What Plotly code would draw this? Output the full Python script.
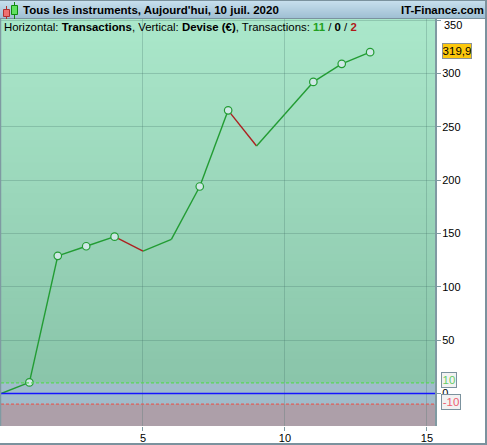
import plotly.graph_objects as go

W, H = 487, 445
L, R, T, B = 1, 436, 19, 426

# Data
transactions = [0, 1, 2, 3, 4, 5, 6, 7, 8, 9, 10, 11, 12, 13]
currency = [0, 10.4, 129, 138, 147, 133.5, 144.5, 194, 265.4, 232, 262, 292, 309, 319.9]
marker_x = [1, 2, 3, 4, 7, 8, 11, 12, 13]
marker_y = [10.4, 129, 138, 147, 194, 265.4, 292, 309, 319.9]
y_ticks = [0, 50, 100, 150, 200, 250, 300, 350]
y_ticklabels = ["0", "50", "100", "150", "200", "250", "300", ""]
top_label = "350"
x_ticks = [5, 10, 15]
x_ticklabels = ["5", "10", "15"]
last_label = "319,9"
upper_level, lower_level = 10, -10
title = "Tous les instruments, Aujourd'hui, 10 juil. 2020"
site = "IT-Finance.com"

GREEN, RED = "#229c33", "#ad2020"
FRAME = "#7b929e"
Y_MIN, Y_MAX = -30.46, 351
X_MIN, X_MAX = 0, 15.32


def px(x):
    return (x - L) / (R - L)


def py(y):
    return (B - y) / (B - T)


def mix(a, b, t):
    return "rgb(%d,%d,%d)" % tuple(round(a[i] + (b[i] - a[i]) * t) for i in range(3))


def rect(x0, y0, x1, y1, fill, line=None, lw=0, layer="above"):
    return dict(type="rect", xref="paper", yref="paper", x0=px(x0), x1=px(x1), y0=py(y0), y1=py(y1),
                fillcolor=fill, line=dict(color=line or fill, width=lw), layer=layer)


def hline(x0, y0, x1, y1, color, lw=1, layer="above"):
    return dict(type="line", xref="paper", yref="paper", x0=px(x0), x1=px(x1), y0=py(y0), y1=py(y1),
                line=dict(color=color, width=lw), layer=layer)


shapes = []
# Green gradient, then the neutral and loss bands
top_c, bot_c = (170, 231, 202), (138, 197, 170)
n = 48
for i in range(n):
    t = i / (n - 1)
    y0 = T + (382 - T) * i / n
    shapes.append(rect(L, y0, R, B, mix(top_c, bot_c, t), layer="below"))
shapes.append(dict(type="rect", xref="paper", yref="y", x0=px(L), x1=px(R), y0=lower_level, y1=upper_level,
                   fillcolor="#a0bccb", line=dict(width=0), layer="below"))
shapes.append(dict(type="rect", xref="paper", yref="y", x0=px(L), x1=px(R), y0=Y_MIN, y1=lower_level,
                   fillcolor="#ad9fa9", line=dict(width=0), layer="below"))
# Reference levels
for level, color, dash, lw in [(upper_level, "#58d858", "3px,2px", 1.3), (lower_level, "#e05c5c", "3px,2px", 1.2), (0, "#1414ff", "solid", 1.4)]:
    shapes.append(dict(type="line", xref="paper", yref="y", x0=px(L), x1=px(R), y0=level, y1=level,
                       line=dict(color=color, width=lw, dash=dash), layer="above"))
# Frame of the plot
shapes.append(hline(436, T, 436, B, "#7f9aa2", 2))
shapes.append(hline(0.5, T, 0.5, B, "#7f9aa2", 1.5))
# Title bar gradient
bar_top, bar_bot = (200, 224, 238), (158, 190, 210)
for i in range(19):
    shapes.append(rect(0, i, W, 19, mix(bar_top, bar_bot, i / 18)))
shapes.append(hline(0, 18.5, W, 18.5, FRAME, 1))
# Window border
shapes.append(hline(0, 0.5, W, 0.5, FRAME, 1))
shapes.append(hline(486, 0, 486, H, FRAME, 2))
shapes.append(hline(0, 444, W, 444, FRAME, 2))
# Candle icon
shapes.append(hline(6.5, 6, 6.5, 19, "#b03030", 1))
shapes.append(rect(3.5, 9.5, 9.5, 16.5, "#ee7070", "#b03030", 1))
shapes.append(hline(14.5, 2, 14.5, 19, "#108a10", 1))
shapes.append(rect(11.5, 5.5, 17.5, 14.5, "#60e060", "#108a10", 1))

fig = go.Figure()
for i in range(len(transactions) - 1):
    color = RED if currency[i + 1] < currency[i] else GREEN
    fig.add_trace(go.Scatter(x=transactions[i:i + 2], y=currency[i:i + 2], mode="lines",
                             line=dict(color=color, width=1.4), hoverinfo="skip", showlegend=False))
fig.add_trace(go.Scatter(x=marker_x, y=marker_y, mode="markers",
                         marker=dict(size=7.5, color="#cfe8e6", line=dict(color=GREEN, width=1.2)),
                         hoverinfo="skip", showlegend=False))

FONT = "Liberation Sans"
INK = "#000000"
annotations = [
    dict(xref="paper", yref="paper", x=px(21), y=py(9.5), text=f"<b>{title}</b>", showarrow=False,
         xanchor="left", yanchor="middle", font=dict(family=FONT, size=11.5, color=INK)),
    dict(xref="paper", yref="paper", x=px(486), y=py(9.5), text=f"<b>{site}</b>", showarrow=False,
         xanchor="right", yanchor="middle", font=dict(family=FONT, size=11.4, color=INK)),
    dict(xref="paper", yref="paper", x=px(2), y=py(27), showarrow=False, xanchor="left", yanchor="middle",
         text="Horizontal: <b>Transactions</b>, Vertical: <b>Devise (€)</b>, Transactions: "
              "<b style='color:#22a022'>11</b> / <b>0</b> / <b style='color:#b01818'>2</b>",
         font=dict(family=FONT, size=11.4, color=INK)),
    dict(xref="paper", yref="paper", x=px(442), y=py(25), text=top_label, showarrow=False, xanchor="left",
         yanchor="middle", font=dict(family=FONT, size=11, color=INK)),
    dict(xref="paper", yref="y", x=px(442), y=currency[-1], yshift=1.5, text=last_label, showarrow=False,
         xanchor="left", yanchor="middle", bgcolor="#fcc70c", bordercolor="#8a9298", borderwidth=1, borderpad=0,
         width=28, height=14, font=dict(family=FONT, size=11.5, color=INK)),
    dict(xref="paper", yref="y", x=px(441), y=upper_level, yshift=2.5, text=str(upper_level), showarrow=False,
         xanchor="left", yanchor="middle", bgcolor="#f2f2f2", bordercolor=FRAME, borderwidth=1, borderpad=0,
         width=14, height=14, font=dict(family=FONT, size=11.5, color="#66cc66")),
    dict(xref="paper", yref="y", x=px(441), y=lower_level, yshift=2, text=str(lower_level), showarrow=False,
         xanchor="left", yanchor="middle", bgcolor="#f2f2f2", bordercolor=FRAME, borderwidth=1, borderpad=0,
         width=18, height=14, font=dict(family=FONT, size=11.5, color="#ee6070")),
]

fig.update_layout(
    width=W, height=H, margin=dict(l=L, r=W - R, t=T, b=H - B, autoexpand=False),
    paper_bgcolor="white", plot_bgcolor="white", showlegend=False,
    shapes=shapes, annotations=annotations,
    font=dict(family=FONT, size=11, color=INK),
    xaxis=dict(range=[X_MIN, X_MAX], tickmode="array", tickvals=x_ticks, ticktext=x_ticklabels,
               showgrid=True, gridcolor="rgba(60,110,100,0.26)", gridwidth=1, zeroline=False,
               ticks="outside", ticklen=4, tickcolor="#7f9aa2", showline=False, ticklabelstandoff=-2),
    yaxis=dict(range=[Y_MIN, Y_MAX], side="right", tickmode="array", tickvals=y_ticks, ticktext=y_ticklabels,
               showgrid=True, gridcolor="rgba(60,110,100,0.26)", gridwidth=1, zeroline=False,
               ticks="outside", ticklen=4, tickcolor="#7f9aa2", showline=False, ticklabelstandoff=-1),
)
fig.write_html("out.html", config=dict(displayModeBar=False),
               post_script="document.body.style.margin='0';document.body.style.overflow='hidden';")
